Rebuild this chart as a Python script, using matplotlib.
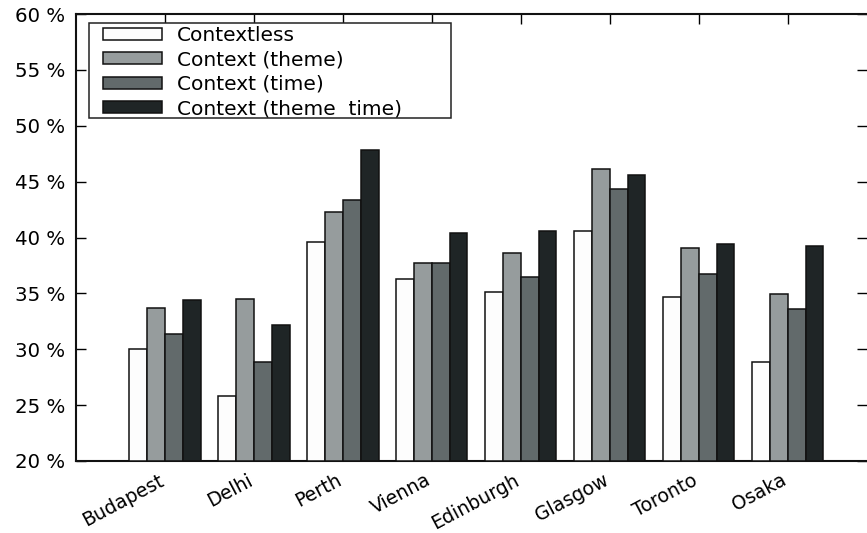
import numpy as np
import matplotlib
matplotlib.use('Agg')
import matplotlib.pyplot as plt
from matplotlib.patches import Rectangle
from matplotlib.ticker import FuncFormatter

cities = ['Budapest', 'Delhi', 'Perth', 'Vienna', 'Edinburgh', 'Glasgow', 'Toronto', 'Osaka']
contextless = [30.0, 25.8, 39.6, 36.3, 35.1, 40.6, 34.7, 28.9]
ctx_theme = [33.7, 34.5, 42.3, 37.7, 38.6, 46.1, 39.1, 34.9]
ctx_time = [31.4, 28.9, 43.4, 37.7, 36.5, 44.3, 36.7, 33.6]
ctx_theme_time = [34.4, 32.2, 47.8, 40.4, 40.6, 45.6, 39.4, 39.2]

labels = ['Contextless', 'Context (theme)', 'Context (time)', 'Context (theme  time)']
colors = ['#fdfdfd', '#969c9d', '#626a6b', '#1f2526']
series = [contextless, ctx_theme, ctx_time, ctx_theme_time]

W, H = 867, 533
plt.rcParams['font.family'] = 'DejaVu Sans'
fig = plt.figure(figsize=(W/100, H/100), dpi=100)
# plot area in pixels: left 76, right 867 (clipped), top 14, bottom 461
ax = fig.add_axes([76/W, (H-461)/H, 1 - 76/W, (461-14)/H])

x = np.arange(len(cities))
w = 0.2
for i, (vals, lab, col) in enumerate(zip(series, labels, colors)):
    ax.bar(x + (i - 1.5)*w, np.array(vals) - 20, width=w, bottom=20,
           color=col, edgecolor='#111111', linewidth=1.1, label=lab, zorder=3)

ax.set_xlim(-1.0, 7.89)
ax.set_ylim(20, 60)
ax.set_yticks(np.arange(20, 61, 5))
ax.yaxis.set_major_formatter(FuncFormatter(lambda v, p: '%d %%' % v))
ax.set_xticks(x)
ax.set_xticklabels(cities, rotation=28, ha='right', va='baseline',
                   rotation_mode='anchor', fontsize=13.6)

ax.tick_params(axis='y', direction='in', length=7, width=1, left=True, right=True,
               labelsize=14.2, pad=8, colors='black')
ax.tick_params(axis='x', direction='in', length=7, width=1, top=True, bottom=False,
               pad=16.5)

for s in ['left', 'bottom', 'top']:
    ax.spines[s].set_linewidth(1.5)
    ax.spines[s].set_color('#111111')
ax.spines['right'].set_visible(False)

# legend without its own frame; box drawn separately like gnuplot's key
leg = ax.legend(loc='upper left', bbox_to_anchor=(103/W, 1 - 26/H),
                bbox_transform=fig.transFigure, frameon=False, fontsize=14.5,
                handlelength=2.95, handleheight=0.55, labelspacing=0.27,
                borderpad=0, handletextpad=0.7, borderaxespad=0)
leg.set_zorder(6)
ax.add_patch(Rectangle((89/W, 1 - 118/H), (451-89)/W, (118-23)/H,
                       transform=fig.transFigure, facecolor='white',
                       edgecolor='#222222', linewidth=1.1, zorder=5, clip_on=False))

fig.savefig('out.png', dpi=100)
